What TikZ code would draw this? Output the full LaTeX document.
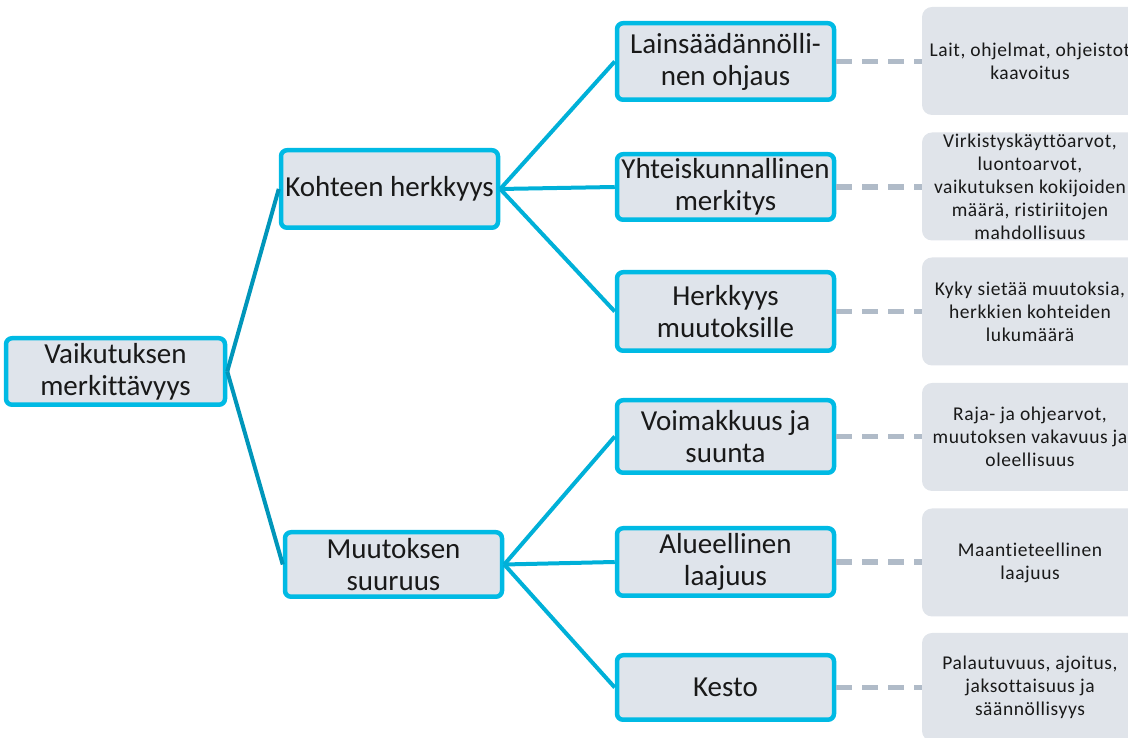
\documentclass[tikz,border=0pt]{standalone}
\usepackage{fontspec}
\setmainfont[Ligatures=NoCommon]{Carlito}
\newfontfamily\detailfont[Ligatures=NoCommon, LetterSpace=3]{Carlito}
\usepackage{xcolor}
\definecolor{boxcyan}{RGB}{0,186,228}
\definecolor{boxfill}{RGB}{223,228,235}
\definecolor{rootedge}{RGB}{0,150,186}
\definecolor{leafedge}{RGB}{0,176,216}
\definecolor{dashgray}{RGB}{176,187,200}
\definecolor{detailfill}{RGB}{224,228,234}
\definecolor{textdark}{RGB}{25,25,25}

\begin{document}
\begin{tikzpicture}[
                line join=round,
                mainbox/.style={shape=rectangle, rounded corners=6pt, fill=boxfill, draw=boxcyan, line width=4.5pt, minimum width=217pt, align=center, text=textdark, inner sep=2pt, font=\fontsize{29}{32}\selectfont},
                detailbox/.style={shape=rectangle, rounded corners=10pt, fill=detailfill, minimum width=216pt, minimum height=108pt, inner sep=0pt},
                detailtext/.style={align=center, text=textdark, font=\detailfont\fontsize{19.5}{23}\selectfont},
                rootline/.style={draw=rootedge, line width=4pt},
                leafline/.style={draw=leafedge, line width=4pt},
                dashline/.style={draw=dashgray, line width=5.5pt, dash pattern=on 16pt off 10pt}
                ]
                \useasboundingbox (0pt, 0pt) rectangle (1128pt, 738pt);
                \clip (0pt, 0pt) rectangle (1128pt, 738pt);

                %% Tree
                \node[mainbox, minimum width=219pt, minimum height=66.5pt] (root) at (115.5pt, 366.5pt) {Vaikutuksen\\merkittävyys};
                \node[mainbox, minimum height=77.5pt] (kohde) at (389.5pt, 549pt) {Kohteen herkkyys};
                \node[mainbox, minimum height=64.5pt] (muutos) at (393.5pt, 173.5pt) {Muutoksen\\suuruus};

                \node[mainbox, minimum height=76.5pt] (m1) at (725.5pt, 676.5pt) {Lainsäädännölli-\\nen ohjaus};
                \node[mainbox, minimum height=65.5pt] (m2) at (725.5pt, 551pt) {Yhteiskunnallinen\\merkitys};
                \node[mainbox, minimum height=78.5pt] (m3) at (725.5pt, 426.5pt) {Herkkyys\\muutoksille};
                \node[mainbox, minimum height=72.5pt] (m4) at (725.5pt, 301.5pt) {Voimakkuus ja\\suunta};
                \node[mainbox, minimum height=67.5pt] (m5) at (725.5pt, 176pt) {Alueellinen\\laajuus};
                \node[mainbox, minimum height=64.5pt] (m6) at (725.5pt, 50.5pt) {Kesto};

                \draw[rootline] (root.east) -- (kohde.west);
                \draw[rootline] (root.east) -- (muutos.west);

                \draw[leafline] (kohde.east) -- (m1.west);
                \draw[leafline] (kohde.east) -- (m2.west);
                \draw[leafline] (kohde.east) -- (m3.west);
                \draw[leafline] (muutos.east) -- (m4.west);
                \draw[leafline] (muutos.east) -- (m5.west);
                \draw[leafline] (muutos.east) -- (m6.west);

                        % Details
                        \foreach \i/\y/\txt in {1/677/{Lait, ohjelmat, ohjeistot\\kaavoitus},
                                                2/551.5/{Virkistyskäyttöarvot,\\luontoarvot,\\vaikutuksen kokijoiden\\määrä, ristiriitojen\\mahdollisuus},
                                                3/426.5/{Kyky sietää muutoksia,\\herkkien kohteiden\\lukumäärä},
                                                4/301/{Raja- ja ohjearvot,\\muutoksen vakavuus ja\\oleellisuus},
                                                5/175.5/{Maantieteellinen\\laajuus},
                                                6/51/{Palautuvuus, ajoitus,\\jaksottaisuus ja\\säännöllisyys}} {
                            \node[detailbox] (r\i) at (1030pt, \y pt) {};
                            \node[detailtext] (r\i text) at (r\i) {\txt};
                            \draw[dashline] (m\i.east) -- (m\i.east -| r\i.west);
                        }
                    \end{tikzpicture}
\end{document}
